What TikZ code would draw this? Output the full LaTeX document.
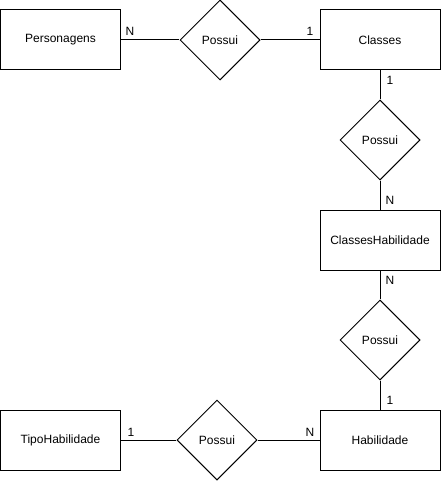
\documentclass[tikz,border=0pt]{standalone}
\usepackage{fontspec}
\setmainfont{Liberation Sans}
\usetikzlibrary{shapes.geometric}
\begin{document}
\begin{tikzpicture}[x=0.75pt,y=-0.75pt,
  every node/.style={font=\fontsize{9}{11}\selectfont},
  entity/.style={draw,line width=0.75pt,minimum width=90pt,minimum height=45pt,inner sep=0pt},
  rel/.style={draw,diamond,aspect=1,line width=0.75pt,minimum width=60pt,minimum height=60pt,inner sep=0pt},
  link/.style={line width=0.75pt},
  card/.style={inner sep=0pt}]
\useasboundingbox (0,0) rectangle (441,481);
\node[entity] (pers) at (60.5,40) {Personagens};
\node[rel] (r1) at (220,40) {Possui};
\node[entity] (cls) at (380,40) {Classes};
\node[rel] (r2) at (380,140) {Possui};
\node[entity] (ch) at (380,240) {ClassesHabilidade};
\node[rel] (r3) at (380,340) {Possui};
\node[entity] (hab) at (380,440) {Habilidade};
\node[rel] (r4) at (217,440) {Possui};
\node[entity] (tipo) at (60.5,440) {TipoHabilidade};
\draw[link] (pers) -- (r1);
\draw[link] (r1) -- (cls);
\draw[link] (cls) -- (r2);
\draw[link] (r2) -- (ch);
\draw[link] (ch) -- (r3);
\draw[link] (r3) -- (hab);
\draw[link] (hab) -- (r4);
\draw[link] (r4) -- (tipo);
\node[card] (c1) at (130,31) {N};
\node[card] (c2) at (310,31) {1};
\node[card] (c3) at (390,80) {1};
\node[card] (c4) at (390,200) {N};
\node[card] (c5) at (390,280) {N};
\node[card] (c6) at (390,400) {1};
\node[card] (c7) at (131,432) {1};
\node[card] (c8) at (310,432) {N};
\end{tikzpicture}
\end{document}
